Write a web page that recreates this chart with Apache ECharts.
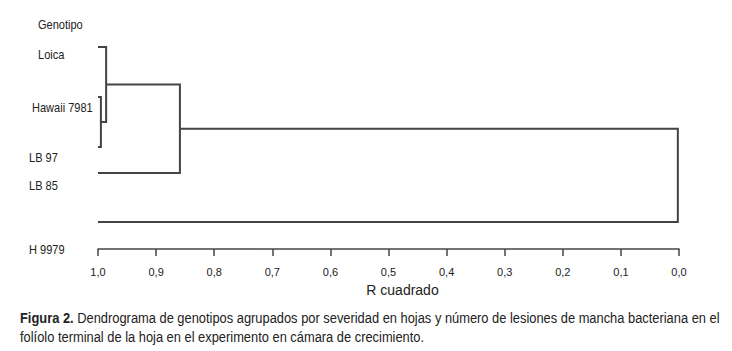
<!DOCTYPE html>
<html>
<head>
<meta charset="utf-8">
<script src="https://cdn.jsdelivr.net/npm/echarts@6/dist/echarts.min.js"></script>
<style>
  html, body { margin: 0; padding: 0; background: #fff; }
  #chart { width: 732px; height: 351px; }
</style>
</head>
<body>
<div id="chart"></div>
<script>
// leaves of the dendrogram, in drawing order (top to bottom)
const leaves = ['Loica', 'Hawaii 7981', 'LB 97', 'LB 85', 'H 9979'];
// leaf rows on the hidden vertical scale
const leafRows = [0, 2, 4, 5.04, 7];
// label rows as printed in the figure (they sit a little off the lines)
const labelRows = [0.3, 2.45, 4.45, 5.55, 8.1];
const headerRow = -0.88;
// merges: child a, child b (ids >= leaves.length are earlier merges), R cuadrado
const mergeA = [1, 0, 6, 7];
const mergeB = [2, 5, 3, 4];
const mergeR2 = [0.995, 0.986, 0.859, 0.002];

const lineColor = '#444';
const textColor = '#222';
const font = '"Liberation Sans", Arial, sans-serif';

const captionBold = 'Figura 2.';
const captionLine1 = ' Dendrograma de genotipos agrupados por severidad en hojas y número de lesiones de mancha bacteriana en el';
const captionLine2 = 'folíolo terminal de la hoja en el experimento en cámara de crecimiento.';

// node positions: leaves at R2 = 1, merges at their height, centred between children
const nodeX = leaves.map(() => 1.0);
const nodeY = leafRows.slice();
mergeA.forEach((a, i) => {
    const b = mergeB[i];
    nodeX.push(mergeR2[i]);
    nodeY.push((nodeY[a] + nodeY[b]) / 2);
});

const labelIndent = [38, 32, 29, 29, 29];

// the figure uses a condensed face; squeeze the caption to its printed width
const ctx = document.createElement('canvas').getContext('2d');
ctx.font = 'bold 14px "Liberation Sans"';
let w = ctx.measureText(captionBold).width;
ctx.font = '14px "Liberation Sans"';
w += ctx.measureText(captionLine1).width;
const capScale = 700 / w;

function leafText(x, y, text) {
    return {
        type: 'text',
        x: x,
        y: y,
        scaleX: 0.92,
        style: {
            text: text,
            fontFamily: font,
            fontSize: 12,
            fill: textColor,
            align: 'left',
            verticalAlign: 'middle'
        }
    };
}

const chart = echarts.init(document.getElementById('chart'), null, { renderer: 'svg' });
chart.setOption({
    animation: false,
    grid: { left: 98, right: 53, top: 22, bottom: 102 },
    xAxis: {
        type: 'value',
        inverse: true,
        min: 0,
        max: 1,
        interval: 0.1,
        name: 'R cuadrado',
        nameLocation: 'middle',
        nameGap: 34,
        nameTextStyle: { fontFamily: font, fontSize: 14, color: textColor, padding: [0, 0, 0, 28] },
        axisLine: { show: true, onZero: false, lineStyle: { color: lineColor, width: 1.5 } },
        axisTick: { show: true, length: 7, lineStyle: { color: lineColor, width: 1.5 } },
        axisLabel: {
            margin: 17,
            fontFamily: font,
            fontSize: 11,
            color: textColor,
            formatter: v => v.toFixed(1).replace('.', ',')
        },
        splitLine: { show: false }
    },
    yAxis: {
        type: 'value',
        inverse: true,
        min: -1,
        max: 8.08,
        show: false
    },
    series: [
        {
            type: 'custom',
            clip: false,
            data: mergeA.map((a, i) => [i]),
            renderItem: (params, api) => {
                const i = api.value(0);
                const a = mergeA[i], b = mergeB[i], h = mergeR2[i];
                const pts = [
                    api.coord([nodeX[a], nodeY[a]]),
                    api.coord([h, nodeY[a]]),
                    api.coord([h, nodeY[b]]),
                    api.coord([nodeX[b], nodeY[b]])
                ];
                return {
                    type: 'polyline',
                    shape: { points: pts },
                    style: { stroke: lineColor, lineWidth: 2, fill: null }
                };
            }
        },
        {
            type: 'custom',
            clip: false,
            data: leaves.map((n, i) => [i]),
            renderItem: (params, api) => {
                const i = api.value(0);
                const p = api.coord([1, labelRows[i]]);
                return leafText(labelIndent[i], p[1], leaves[i]);
            }
        },
        {
            type: 'custom',
            clip: false,
            data: [[0]],
            renderItem: (params, api) => {
                const p = api.coord([1, headerRow]);
                return leafText(38, p[1], 'Genotipo');
            }
        }
    ],
    graphic: [
        {
            type: 'text',
            x: 20,
            y: 309,
            scaleX: capScale,
            style: {
                text: '{b|' + captionBold + '}' + captionLine1 + '\n' + captionLine2,
                fontFamily: font,
                fontSize: 14,
                lineHeight: 19,
                fill: textColor,
                rich: {
                    b: { fontFamily: font, fontSize: 14, fontWeight: 'bold', fill: textColor }
                }
            }
        }
    ]
});
</script>
</body>
</html>
